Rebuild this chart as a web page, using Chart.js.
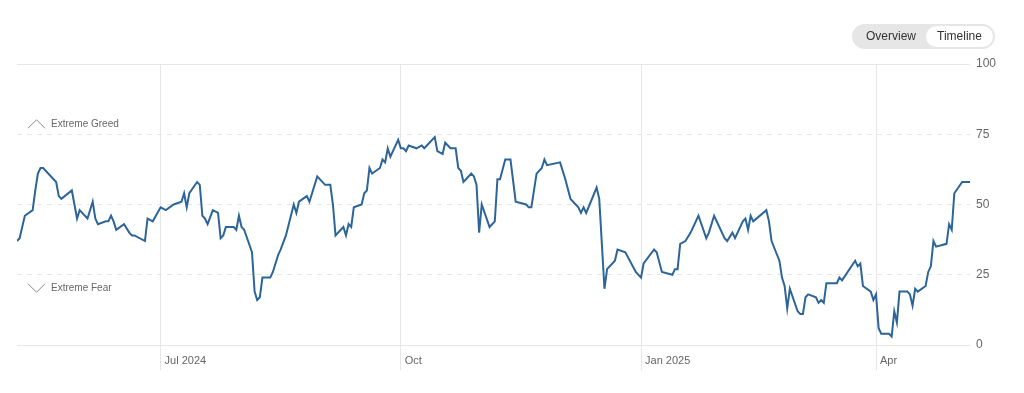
<!DOCTYPE html>
<html>
<head>
<meta charset="utf-8">
<script src="https://cdn.jsdelivr.net/npm/chart.js@4.4.1/dist/chart.umd.min.js"></script>
<style>
  html, body { margin: 0; padding: 0; background: #fff; }
  #wrap { position: relative; width: 1024px; height: 393px; }
  #toggle {
    position: absolute; left: 852px; top: 24px; width: 143px; height: 25px;
    border-radius: 13px; background: #e6e6e6;
    font: 12px "Liberation Sans", Arial, sans-serif; color: #333;
  }
  #toggle span { position: absolute; top: 2px; height: 21px; line-height: 21px; text-align: center; border-radius: 11px; }
  #toggle .ov { left: 4px; width: 70px; }
  #toggle .tl { left: 74px; width: 67px; background: #fff; }
</style>
</head>
<body>
<div id="wrap">
  <canvas id="fgChart" width="1024" height="393"></canvas>
  <div id="toggle"><span class="ov">Overview</span><span class="tl">Timeline</span></div>
</div>
<script>
// days counted from 2024-05-07
const days = [
  0,1,3,6,7,8,9,10,15,16,
  17,21,23,24,27,29,30,31,34,35,
  36,37,38,41,43,44,45,49,50,52,
  55,57,60,63,64,65,66,69,70,71,
  72,73,75,77,78,79,80,83,84,85,
  86,87,90,91,92,93,94,97,98,100,
  101,103,106,107,108,111,112,115,118,120,
  121,122,125,126,127,128,129,132,133,134,
  135,136,139,140,141,142,143,146,147,148,
  149,150,153,155,156,160,161,163,164,166,
  168,169,170,171,174,175,176,177,178,181,
  183,184,185,187,189,191,195,196,197,199,
  201,202,203,208,210,212,215,216,217,218,
  222,223,225,226,229,230,233,237,239,240,
  244,245,247,251,252,253,254,256,258,261,
  264,265,267,271,272,274,275,278,279,280,
  281,282,287,288,289,292,293,294,295,296,
  299,300,301,302,303,306,307,308,309,310,
  313,314,315,316,321,322,323,324,327,328,
  329,330,331,334,335,336,337,338,341,342,
  343,344,345,348,349,350,351,352,356,357,
  358,359,362,365
];
const scores = [
  37,38,46,48,55,61,63,63,58,53,
  52,55,45,48,45,51,45,43,44,44,
  46,44,41,43,40,39,39,37,45,44,
  49,48,50,51,54,49,54,58,57,46,
  45,43,48,47,38,39,42,42,41,46,
  42,41,33,19,16,17,24,24,26,32,
  34,39,50,47,51,53,51,60,57,57,
  50,39,42,39,43,42,49,50,54,55,
  63,61,63,66,65,70,67,73,70,70,
  69,71,70,71,70,74,69,68,72,70,
  70,63,62,58,61,60,57,40,50,42,
  44,59,59,66,66,51,50,49,49,61,
  63,66,64,65,59,52,49,47,49,47,
  56,52,20,27,30,34,33,26,24,29,
  34,33,26,25,27,27,36,37,40,46,
  38,40,46,38,37,40,38,44,45,41,
  46,44,48,44,37,30,24,21,13,20,
  12,11,11,17,18,17,15,16,15,22,
  22,22,24,23,30,28,29,21,19,16,
  18,6,4,4,3,12,8,19,19,18,
  14,20,19,21,26,28,37,35,36,43,
  41,54,58,58
];
const monthTicks = [55, 147, 239, 329];
const monthLabels = ["Jul 2024", "Oct", "Jan 2025", "Apr"];
const yTicks = [0, 25, 50, 75, 100];

const zoneLabels = {
  id: "zoneLabels",
  afterDraw(chart) {
    const { ctx } = chart;
    const y = chart.scales.y;
    const greedY = y.getPixelForValue(75) - 10;
    const fearY = y.getPixelForValue(25) + 13;
    ctx.save();
    ctx.strokeStyle = "#888";
    ctx.lineWidth = 1;
    ctx.beginPath();
    ctx.moveTo(28, greedY + 4);
    ctx.lineTo(36.5, greedY - 4.5);
    ctx.lineTo(45, greedY + 4);
    ctx.moveTo(28, fearY - 4);
    ctx.lineTo(36.5, fearY + 4.5);
    ctx.lineTo(45, fearY - 4);
    ctx.stroke();
    ctx.fillStyle = "#666";
    ctx.font = '10px "Liberation Sans", Arial, sans-serif';
    ctx.textBaseline = "middle";
    ctx.fillText("Extreme Greed", 51, greedY);
    ctx.fillText("Extreme Fear", 51, fearY);
    ctx.restore();
  },
};

new Chart("fgChart", {
  type: "line",
  data: {
    datasets: [{
      data: days.map((d, i) => ({ x: d, y: scores[i] })),
      borderColor: "#2d6598",
      borderWidth: 2,
      pointRadius: 0,
      tension: 0,
    }],
  },
  options: {
    responsive: false,
    animation: false,
    layout: { padding: { top: 64, left: 17, right: 0, bottom: 0 } },
    plugins: { legend: { display: false }, tooltip: { enabled: false } },
    scales: {
      x: {
        type: "linear",
        min: 0,
        max: 365,
        afterBuildTicks: (scale) => { scale.ticks = monthTicks.map((v) => ({ value: v })); },
        afterFit: (scale) => { scale.height = 48; },
        grid: { color: "#e6e6e6", tickLength: 25 },
        border: { display: false },
        ticks: {
          align: "start",
          labelOffset: 4,
          padding: -16,
          color: "#666",
          font: { family: '"Liberation Sans", Arial, sans-serif', size: 11 },
          callback: (v) => monthLabels[monthTicks.indexOf(v)],
        },
      },
      y: {
        position: "right",
        min: 0,
        max: 100,
        afterBuildTicks: (scale) => { scale.ticks = yTicks.map((v) => ({ value: v })); },
        afterFit: (scale) => { scale.width = 54; },
        grid: { color: "#e6e6e6", drawTicks: false },
        border: {
          display: false,
          dash: (ctx) => (ctx.tick && (ctx.tick.value === 0 || ctx.tick.value === 100) ? [] : [5, 5]),
        },
        ticks: {
          padding: 6,
          color: "#666",
          font: { family: '"Liberation Sans", Arial, sans-serif', size: 12 },
        },
      },
    },
  },
  plugins: [zoneLabels],
});
</script>
</body>
</html>
